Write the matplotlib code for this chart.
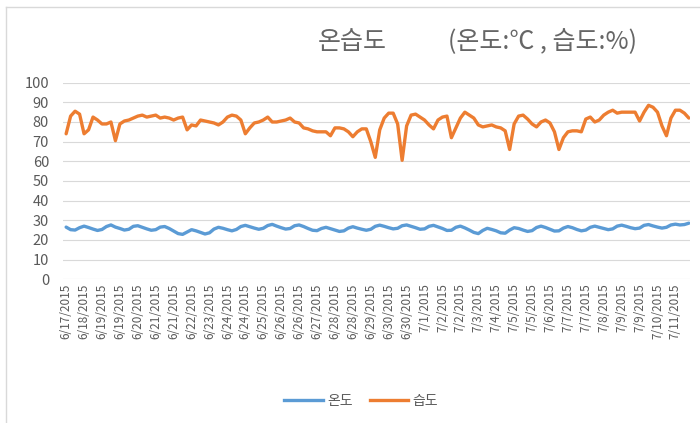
import matplotlib
matplotlib.use("Agg")
import matplotlib.pyplot as plt
from matplotlib.lines import Line2D

plt.rcParams['font.family'] = ['Noto Sans CJK KR', 'DejaVu Sans']

# humidity (%), one value every 4 hours
humidity = [
    74, 83, 85.5, 84, 74, 76, 82.5, 81, 79, 79,
    80, 70.5, 79, 80.5, 81, 82, 83, 83.5, 82.5, 83,
    83.5, 82, 82.5, 82, 81, 82, 82.5, 76, 78.5, 78,
    81, 80.5, 80, 79.5, 78.5, 80, 82.5, 83.5, 83, 81,
    74, 77, 79.5, 80, 81, 82.5, 80, 80, 80.5, 81,
    82, 80, 79.5, 77, 76.5, 75.5, 75, 75, 75, 73,
    77, 77, 76.5, 75, 72.5, 75, 76.5, 76.5, 70, 62,
    76, 82, 84.5, 84.5, 79, 60.5, 78, 83.5, 84, 82.5,
    81, 78.5, 76.5, 81, 82.5, 83, 72, 77, 82, 85,
    83.5, 82, 78.5, 77.5, 78, 78.5, 77.5, 77, 75.5, 66,
    79, 83, 83.5, 81.5, 79, 77.5, 80, 81, 79.5, 75,
    66, 72, 75, 75.5, 75.5, 75, 81.5, 82.5, 80, 81,
    83.5, 85, 86, 84.5, 85, 85, 85, 85, 80.5, 85,
    88.5, 87.5, 85, 78, 73, 82, 86, 86, 84.5, 82,
]

# temperature (C), same time steps
temperature = [
    26.5, 25.2, 25.0, 26.2, 27.0, 26.3,
    25.5, 24.8, 25.3, 26.8, 27.6, 26.5,
    25.8, 25.0, 25.4, 26.9, 27.2, 26.4,
    25.6, 24.9, 25.2, 26.5, 26.8, 25.8,
    24.5, 23.2, 22.8, 24.0, 25.2, 24.6,
    23.8, 23.0, 23.6, 25.5, 26.4, 25.9,
    25.2, 24.6, 25.3, 26.8, 27.4, 26.7,
    26.0, 25.4, 25.9, 27.3, 27.9, 27.0,
    26.2, 25.5, 25.8, 27.2, 27.6, 26.8,
    25.8, 24.9, 24.7, 25.8, 26.4, 25.7,
    25.0, 24.3, 24.6, 26.0, 26.7, 26.0,
    25.4, 24.9, 25.4, 26.9, 27.5, 26.9,
    26.2, 25.6, 25.9, 27.2, 27.6, 26.9,
    26.2, 25.4, 25.6, 26.9, 27.4, 26.6,
    25.8, 24.8, 24.9, 26.4, 27.0, 26.1,
    25.0, 23.8, 23.2, 24.8, 25.9, 25.3,
    24.6, 23.6, 23.4, 25.0, 26.2, 25.8,
    25.0, 24.3, 24.7, 26.3, 27.0, 26.3,
    25.4, 24.5, 24.6, 26.0, 26.8, 26.2,
    25.3, 24.6, 25.0, 26.4, 27.0, 26.4,
    25.8, 25.2, 25.6, 27.0, 27.5, 26.9,
    26.2, 25.7, 26.0, 27.4, 27.8, 27.1,
    26.5, 26.0, 26.4, 27.6, 28.0, 27.6,
    27.8, 28.5,
]

tick_labels = [
    "6/17/2015", "6/18/2015", "6/19/2015", "6/19/2015", "6/20/2015",
    "6/21/2015", "6/21/2015", "6/22/2015", "6/23/2015", "6/24/2015",
    "6/24/2015", "6/25/2015", "6/26/2015", "6/26/2015", "6/27/2015",
    "6/28/2015", "6/28/2015", "6/29/2015", "6/30/2015", "6/30/2015",
    "7/1/2015", "7/2/2015", "7/2/2015", "7/3/2015", "7/4/2015",
    "7/5/2015", "7/5/2015", "7/6/2015", "7/7/2015", "7/7/2015",
    "7/8/2015", "7/9/2015", "7/9/2015", "7/10/2015", "7/11/2015",
]

blue = "#5B9BD5"
orange = "#ED7D31"
grey = "#595959"

fig = plt.figure(figsize=(7, 4.23), dpi=100)
ax = fig.add_axes([0.09, 0.340, 0.896, 0.4645])

x = list(range(len(humidity)))
ax.plot(x, temperature, color=blue, lw=2.4, solid_capstyle="round")
ax.plot(x, humidity, color=orange, lw=2.4, solid_capstyle="round")

ax.set_ylim(0, 100)
ax.set_yticks(range(0, 101, 10))
ax.set_xlim(-0.7, 139.3)
ax.set_xticks([i * 4 for i in range(len(tick_labels))])
ax.set_xticklabels(tick_labels, rotation=90, fontsize=8.5, color=grey)
ax.tick_params(axis="y", length=0, pad=10, labelsize=10.5, labelcolor=grey)
ax.tick_params(axis="x", length=0, pad=3)
ax.grid(axis="y", color="#D9D9D9", lw=0.8)
ax.set_axisbelow(True)
for s in ax.spines.values():
    s.set_visible(False)

# title in two pieces to keep the wide gap
fig.text(318 / 700, 1 - 42 / 423, "온습도", ha="left", va="center",
         fontsize=18, color="#666666")
fig.text(542 / 700, 1 - 42 / 423, "(온도:℃ , 습도:%)", ha="center", va="center",
         fontsize=18, color="#666666")

handles = [Line2D([], [], color=blue, lw=2.4), Line2D([], [], color=orange, lw=2.4)]
fig.legend(handles, ["온도", "습도"], loc="center", bbox_to_anchor=(0.516, 0.052),
           ncol=2, frameon=False, fontsize=10, handlelength=2.8,
           columnspacing=1.2, handletextpad=0.3, labelcolor=grey)

# chart area border (left/top visible)
fig.add_artist(Line2D([0.009, 0.009], [0.0, 0.983], color="#D9D9D9", lw=1,
                      transform=fig.transFigure))
fig.add_artist(Line2D([0.009, 1.0], [0.983, 0.983], color="#D9D9D9", lw=1,
                      transform=fig.transFigure))

fig.savefig("out.png", dpi=100)
